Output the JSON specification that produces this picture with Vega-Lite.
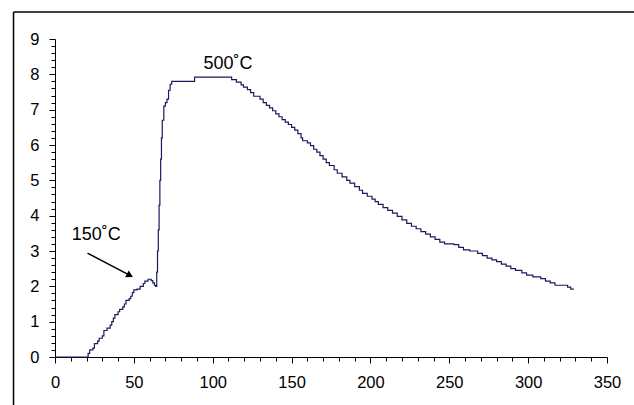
{
  "$schema": "https://vega.github.io/schema/vega-lite/v6.json",
  "width": 552,
  "height": 318,
  "autosize": {"type": "none"},
  "padding": {"left": 55, "top": 39, "right": 27, "bottom": 48},
  "background": "white",
  "config": {
    "view": {"stroke": null},
    "font": "Liberation Sans",
    "axis": {
      "domainColor": "black", "tickColor": "black", "labelColor": "black",
      "labelFont": "Liberation Sans", "labelFontSize": 16.5, "grid": false,
      "domainWidth": 1, "tickWidth": 1, "labelOverlap": false, "labelFlush": false
    }
  },
  "datasets": {
    "series": [
      {"x": 0, "y": 0}, {"x": 20, "y": 0}, {"x": 21, "y": 0.1}, {"x": 22, "y": 0.2}, {"x": 24, "y": 0.25},
      {"x": 25, "y": 0.38}, {"x": 27, "y": 0.45}, {"x": 28, "y": 0.53}, {"x": 30, "y": 0.6}, {"x": 31, "y": 0.75},
      {"x": 33, "y": 0.82}, {"x": 35, "y": 0.9}, {"x": 36, "y": 1.0}, {"x": 37, "y": 1.1}, {"x": 38, "y": 1.2},
      {"x": 40, "y": 1.28}, {"x": 41, "y": 1.35}, {"x": 43, "y": 1.42}, {"x": 44, "y": 1.5}, {"x": 45, "y": 1.6},
      {"x": 47, "y": 1.65}, {"x": 48, "y": 1.72}, {"x": 49, "y": 1.82}, {"x": 50, "y": 1.9}, {"x": 52, "y": 1.92},
      {"x": 54, "y": 2.0}, {"x": 56, "y": 2.08}, {"x": 57, "y": 2.15}, {"x": 59, "y": 2.2}, {"x": 60, "y": 2.2},
      {"x": 61, "y": 2.16}, {"x": 62, "y": 2.1}, {"x": 63, "y": 2.03}, {"x": 63.8, "y": 2.0}, {"x": 64.5, "y": 2.4},
      {"x": 65, "y": 3.0}, {"x": 65.5, "y": 3.6}, {"x": 66, "y": 4.3}, {"x": 66.5, "y": 5.0}, {"x": 67, "y": 5.6},
      {"x": 67.5, "y": 6.2}, {"x": 68, "y": 6.7}, {"x": 69, "y": 7.1}, {"x": 70, "y": 7.2}, {"x": 71, "y": 7.3},
      {"x": 72, "y": 7.55}, {"x": 73, "y": 7.72}, {"x": 74, "y": 7.8}, {"x": 88.5, "y": 7.92}, {"x": 110.5, "y": 7.92},
      {"x": 112, "y": 7.85}, {"x": 115, "y": 7.78}, {"x": 118, "y": 7.7}, {"x": 119.5, "y": 7.64}, {"x": 122, "y": 7.57},
      {"x": 124, "y": 7.48}, {"x": 126, "y": 7.38}, {"x": 130, "y": 7.3}, {"x": 132, "y": 7.2}, {"x": 134, "y": 7.12},
      {"x": 136, "y": 7.05}, {"x": 138, "y": 6.97}, {"x": 140, "y": 6.88}, {"x": 142, "y": 6.8}, {"x": 144, "y": 6.72},
      {"x": 146, "y": 6.65}, {"x": 148, "y": 6.58}, {"x": 150, "y": 6.5}, {"x": 152, "y": 6.42}, {"x": 154, "y": 6.32},
      {"x": 156, "y": 6.2}, {"x": 157, "y": 6.12}, {"x": 160, "y": 6.06}, {"x": 162, "y": 5.98}, {"x": 164, "y": 5.88},
      {"x": 166, "y": 5.8}, {"x": 168, "y": 5.7}, {"x": 170, "y": 5.6}, {"x": 172, "y": 5.5}, {"x": 174, "y": 5.42},
      {"x": 177, "y": 5.3}, {"x": 179, "y": 5.2}, {"x": 182, "y": 5.1}, {"x": 185, "y": 5.0}, {"x": 187, "y": 4.92},
      {"x": 190, "y": 4.82}, {"x": 193, "y": 4.72}, {"x": 195, "y": 4.63}, {"x": 198, "y": 4.55}, {"x": 201, "y": 4.47},
      {"x": 203, "y": 4.4}, {"x": 205, "y": 4.32}, {"x": 208, "y": 4.23}, {"x": 211, "y": 4.15}, {"x": 214, "y": 4.07},
      {"x": 217, "y": 3.98}, {"x": 220, "y": 3.88}, {"x": 223, "y": 3.78}, {"x": 226, "y": 3.7}, {"x": 229, "y": 3.63},
      {"x": 232, "y": 3.55}, {"x": 235, "y": 3.48}, {"x": 238, "y": 3.4}, {"x": 241, "y": 3.33}, {"x": 244, "y": 3.25},
      {"x": 247, "y": 3.2}, {"x": 253, "y": 3.18}, {"x": 256, "y": 3.1}, {"x": 259, "y": 3.03}, {"x": 263, "y": 3.0},
      {"x": 268, "y": 2.93}, {"x": 271, "y": 2.87}, {"x": 274, "y": 2.8}, {"x": 277, "y": 2.75}, {"x": 280, "y": 2.7},
      {"x": 283, "y": 2.63}, {"x": 286, "y": 2.57}, {"x": 289, "y": 2.5}, {"x": 292, "y": 2.45}, {"x": 296, "y": 2.38},
      {"x": 299, "y": 2.32}, {"x": 303, "y": 2.27}, {"x": 308, "y": 2.22}, {"x": 311, "y": 2.15}, {"x": 314, "y": 2.1},
      {"x": 317, "y": 2.03}, {"x": 325, "y": 1.98}, {"x": 327, "y": 1.92}, {"x": 329, "y": 1.92}
    ],
    "notes": [
      {"x": 10.6, "y": 3.32, "label": "150˚C"},
      {"x": 94.1, "y": 8.14, "label": "500˚C"}
    ],
    "arrow": [{"x": 20.6, "y": 2.94, "x2": 47.5, "y2": 2.31}],
    "head": [{"x": 47.5, "y": 2.31}]
  },
  "layer": [
    {
      "data": {"name": "series"},
      "mark": {"type": "line", "interpolate": "step-after", "color": "#1a1a5c", "strokeWidth": 1.2, "clip": false},
      "encoding": {
        "x": {
          "field": "x", "type": "quantitative",
          "scale": {"domain": [0, 350], "nice": false, "zero": false},
          "axis": {
            "title": null,
            "tickCount": 200,
            "values": [0,10,20,30,40,50,60,70,80,90,100,110,120,130,140,150,160,170,180,190,200,210,220,230,240,250,260,270,280,290,300,310,320,330,340,350],
            "labelExpr": "datum.value % 50 === 0 ? datum.label : ''",
            "tickSize": {"condition": {"test": "datum.value % 50 === 0", "value": 6}, "value": 4},
            "labelPadding": 11
          }
        },
        "y": {
          "field": "y", "type": "quantitative",
          "scale": {"domain": [0, 9], "nice": false, "zero": false},
          "axis": {
            "title": null,
            "tickCount": 200,
            "values": [0,0.2,0.4,0.6,0.8,1,1.2,1.4,1.6,1.8,2,2.2,2.4,2.6,2.8,3,3.2,3.4,3.6,3.8,4,4.2,4.4,4.6,4.8,5,5.2,5.4,5.6,5.8,6,6.2,6.4,6.6,6.8,7,7.2,7.4,7.6,7.8,8,8.2,8.4,8.6,8.8,9],
            "labelExpr": "abs(datum.value - round(datum.value)) < 0.001 ? format(round(datum.value), 'd') : ''",
            "tickSize": {"condition": {"test": "abs(datum.value - round(datum.value)) < 0.001", "value": 6}, "value": 4},
            "labelPadding": 10
          }
        }
      }
    },
    {
      "data": {"name": "notes"},
      "mark": {"type": "text", "align": "left", "baseline": "alphabetic", "fontSize": 18, "font": "Liberation Sans", "color": "black"},
      "encoding": {
        "x": {"field": "x", "type": "quantitative"},
        "y": {"field": "y", "type": "quantitative"},
        "text": {"field": "label"}
      }
    },
    {
      "data": {"name": "arrow"},
      "mark": {"type": "rule", "color": "black", "strokeWidth": 1.5},
      "encoding": {
        "x": {"field": "x", "type": "quantitative"},
        "y": {"field": "y", "type": "quantitative"},
        "x2": {"field": "x2"},
        "y2": {"field": "y2"}
      }
    },
    {
      "data": {"name": "head"},
      "mark": {"type": "point", "shape": "triangle-right", "angle": 27.6, "filled": true, "size": 60, "color": "black", "opacity": 1},
      "encoding": {
        "x": {"field": "x", "type": "quantitative"},
        "y": {"field": "y", "type": "quantitative"}
      }
    },
    {
      "data": {"values": [{}]},
      "mark": {"type": "rule", "color": "black", "strokeWidth": 1.5, "clip": false},
      "encoding": {
        "x": {"datum": -26.3, "type": "quantitative"},
        "x2": {"datum": 372},
        "y": {"datum": 9.767, "type": "quantitative"}
      }
    },
    {
      "data": {"values": [{}]},
      "mark": {"type": "rule", "color": "black", "strokeWidth": 1.5, "clip": false},
      "encoding": {
        "x": {"datum": -26.3, "type": "quantitative"},
        "y": {"datum": -2, "type": "quantitative"},
        "y2": {"datum": 9.767}
      }
    }
  ]
}
